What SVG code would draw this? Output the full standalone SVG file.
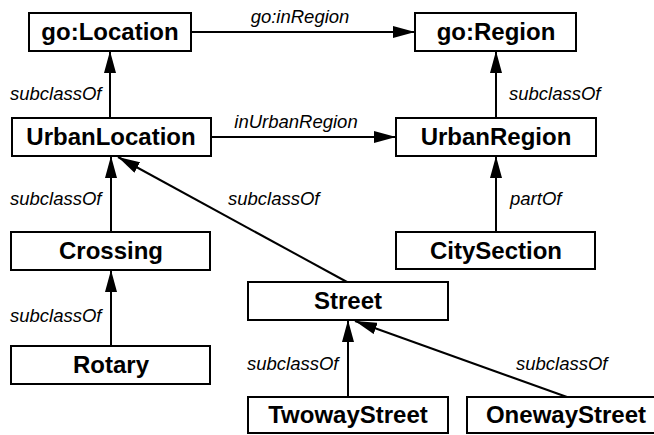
<svg xmlns="http://www.w3.org/2000/svg" width="654" height="435" viewBox="0 0 654 435">
  <defs>
    <style>
      .node rect { fill: #ffffff; stroke: #000000; stroke-width: 2; }
      .node text { font-family: "Liberation Sans", Arial, sans-serif; font-weight: bold; font-size: 24px; text-anchor: middle; fill: #000000; }
      .edge line { stroke: #000000; stroke-width: 2; marker-end: url(#arrow); }
      .lbl { font-family: "Liberation Sans", Arial, sans-serif; font-style: italic; font-size: 18.5px; fill: #000000; }
    </style>
    <marker id="arrow" markerUnits="userSpaceOnUse" markerWidth="22" markerHeight="12" refX="22" refY="6" orient="auto">
      <path d="M0,0 L22,6 L0,12 Z" fill="#000000"/>
    </marker>
  </defs>
  <rect x="0" y="0" width="654" height="435" fill="#ffffff"/>

  <!-- connectors -->
  <g id="connectors" class="edge">
    <line x1="191" y1="32" x2="415" y2="32"/>
    <line x1="211" y1="137" x2="396" y2="137"/>
    <line x1="110" y1="118" x2="110" y2="51"/>
    <line x1="496" y1="118" x2="496" y2="51"/>
    <line x1="111" y1="232" x2="111" y2="156"/>
    <line x1="496" y1="232" x2="496" y2="156"/>
    <line x1="111" y1="346" x2="111" y2="270"/>
    <line x1="347" y1="282" x2="118" y2="157"/>
    <line x1="348" y1="397" x2="348" y2="320"/>
    <line x1="567" y1="397" x2="355" y2="321"/>
  </g>

  <!-- connector labels -->
  <g id="labels">
    <text class="lbl" x="300" y="23" text-anchor="middle">go:inRegion</text>
    <text class="lbl" x="296" y="128" text-anchor="middle">inUrbanRegion</text>
    <text class="lbl" x="10" y="100">subclassOf</text>
    <text class="lbl" x="509" y="100">subclassOf</text>
    <text class="lbl" x="10" y="205">subclassOf</text>
    <text class="lbl" x="228" y="205">subclassOf</text>
    <text class="lbl" x="510" y="205">partOf</text>
    <text class="lbl" x="10" y="322">subclassOf</text>
    <text class="lbl" x="247" y="370">subclassOf</text>
    <text class="lbl" x="516" y="370">subclassOf</text>
  </g>

  <!-- nodes -->
  <g id="goLocation" class="node"><rect x="29" y="13" width="162" height="38"/><text x="110" y="40">go:Location</text></g>
  <g id="goRegion" class="node"><rect x="415" y="13" width="161" height="38"/><text x="496" y="40">go:Region</text></g>
  <g id="UrbanLocation" class="node"><rect x="12" y="118" width="199" height="38"/><text x="111" y="145">UrbanLocation</text></g>
  <g id="UrbanRegion" class="node"><rect x="396" y="118" width="200" height="38"/><text x="496" y="145">UrbanRegion</text></g>
  <g id="Crossing" class="node"><rect x="11" y="232" width="199" height="38"/><text x="111" y="259">Crossing</text></g>
  <g id="CitySection" class="node"><rect x="396" y="232" width="199" height="37"/><text x="496" y="259">CitySection</text></g>
  <g id="Rotary" class="node"><rect x="11" y="346" width="199" height="38"/><text x="111" y="373">Rotary</text></g>
  <g id="Street" class="node"><rect x="248" y="282" width="200" height="38"/><text x="348" y="309">Street</text></g>
  <g id="TwowayStreet" class="node"><rect x="248" y="397" width="200" height="36"/><text x="348" y="423">TwowayStreet</text></g>
  <g id="OnewayStreet" class="node"><rect x="467" y="397" width="200" height="36"/><text x="566" y="423">OnewayStreet</text></g>
</svg>
